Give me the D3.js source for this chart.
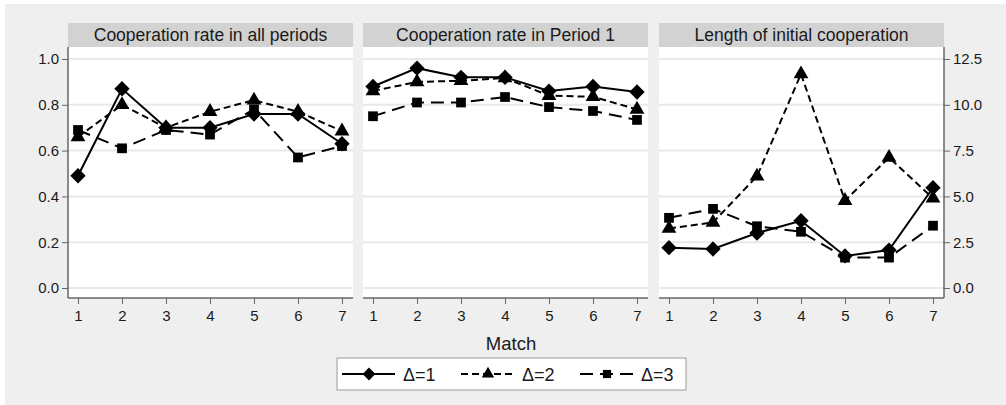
<!DOCTYPE html>
<html>
<head>
<meta charset="utf-8">
<script src="https://cdn.jsdelivr.net/npm/d3@7"></script>
<style>
  body { margin: 0; background: #ffffff; }
  text { font-family: "Liberation Sans", Arial, sans-serif; fill: #1a1a1a; }
</style>
</head>
<body>
<div id="chart"></div>
<script>
// data
var matches = [1, 2, 3, 4, 5, 6, 7];
var seriesNames = ["Δ=1", "Δ=2", "Δ=3"];
var panelTitles = ["Cooperation rate in all periods", "Cooperation rate in Period 1", "Length of initial cooperation"];

var allPeriods_d1 = [0.49, 0.87, 0.70, 0.70, 0.76, 0.76, 0.63];
var allPeriods_d2 = [0.66, 0.80, 0.70, 0.77, 0.82, 0.77, 0.685];
var allPeriods_d3 = [0.69, 0.61, 0.69, 0.67, 0.78, 0.57, 0.62];

var period1_d1 = [0.88, 0.96, 0.92, 0.92, 0.86, 0.88, 0.856];
var period1_d2 = [0.86, 0.90, 0.905, 0.917, 0.84, 0.835, 0.78];
var period1_d3 = [0.75, 0.81, 0.81, 0.834, 0.79, 0.773, 0.734];

var length_d1 = [2.2, 2.13, 3.0, 3.67, 1.75, 2.07, 5.47];
var length_d2 = [3.25, 3.58, 6.1, 11.68, 4.77, 7.12, 4.9];
var length_d3 = [3.83, 4.32, 3.37, 3.07, 1.66, 1.66, 3.4];

var rateTicks = [0, 0.2, 0.4, 0.6, 0.8, 1.0];
var lengthTicks = [0, 2.5, 5, 7.5, 10, 12.5];

var W = 1006, H = 405;
var svg = d3.select("#chart").append("svg")
    .attr("width", W).attr("height", H);

// gray page with thin white strip on left/top
svg.append("rect").attr("width", W).attr("height", H).attr("fill", "#ffffff");
svg.append("rect").attr("x", 5).attr("y", 4).attr("width", W - 5).attr("height", H - 4).attr("fill", "#efefef");

var panelW = 285, gap = 11;
var panelLeft = [68, 68 + panelW + gap - 1, 68 + 2 * (panelW + gap) - 1];
var titleTop = 23, titleH = 24;
var plotTop = 47, plotBottom = 298;

// line styles per series
var dashes = [null, "7,4", "13,7"];
var symbols = [d3.symbolDiamond2, d3.symbolTriangle, d3.symbolSquare];
var symSizes = [150, 95, 95];

var panels = [
  { data: [allPeriods_d1, allPeriods_d2, allPeriods_d3], domain: [0, 1], ticks: rateTicks, fmt: d3.format(".1f"), yTop: 59, axis: "left" },
  { data: [period1_d1, period1_d2, period1_d3], domain: [0, 1], ticks: rateTicks, fmt: d3.format(".1f"), yTop: 59, axis: null },
  { data: [length_d1, length_d2, length_d3], domain: [0, 12.5], ticks: lengthTicks, fmt: d3.format(".1f"), yTop: 59, axis: "right" }
];

panels.forEach(function(p, i) {
  var x0 = panelLeft[i];
  var g = svg.append("g");

  // title strip
  g.append("rect")
    .attr("x", x0).attr("y", titleTop)
    .attr("width", panelW).attr("height", titleH)
    .attr("fill", "#d2d2d2");
  g.append("text")
    .attr("x", x0 + panelW / 2).attr("y", titleTop + titleH / 2 + 6)
    .attr("text-anchor", "middle")
    .style("font-size", "17.5px")
    .text(panelTitles[i]);

  // plot area
  g.append("rect")
    .attr("x", x0).attr("y", plotTop)
    .attr("width", panelW).attr("height", plotBottom - plotTop)
    .attr("fill", "#ffffff");

  var x = d3.scaleLinear().domain([1, 7]).range([x0 + 10, x0 + panelW - 11]);
  var y = d3.scaleLinear().domain(p.domain).range([288, p.yTop]);

  // gridlines
  g.selectAll(".grid").data(p.ticks).enter().append("line")
    .attr("x1", x0).attr("x2", x0 + panelW)
    .attr("y1", function(d) { return y(d); })
    .attr("y2", function(d) { return y(d); })
    .attr("stroke", "#e8e8e8").attr("stroke-width", 2);

  // x axis
  var xa = g.append("g")
    .attr("transform", "translate(0," + plotBottom + ")")
    .call(d3.axisBottom(x).tickValues(matches).tickFormat(d3.format("d")).tickSize(6).tickSizeOuter(0));
  xa.select(".domain").attr("d", "M" + x0 + ",0H" + (x0 + panelW)).attr("stroke", "#666").attr("stroke-width", 1.5);
  xa.selectAll(".tick line").attr("stroke", "#666");
  xa.selectAll(".tick text").style("font-size", "15px").attr("dy", "0.95em").attr("fill", "#1a1a1a");

  // y axis (left on first, right on last)
  if (p.axis) {
    var ax = p.axis === "left" ? d3.axisLeft(y) : d3.axisRight(y);
    var ya = g.append("g")
      .attr("transform", "translate(" + (p.axis === "left" ? x0 : x0 + panelW) + ",0)")
      .call(ax.tickValues(p.ticks).tickFormat(p.fmt).tickSize(6).tickSizeOuter(0).tickPadding(3));
    ya.select(".domain").attr("d", "M0," + plotTop + "V" + plotBottom).attr("stroke", "#666").attr("stroke-width", 1.5);
    ya.selectAll(".tick line").attr("stroke", "#666");
    ya.selectAll(".tick text").style("font-size", "15px").attr("fill", "#1a1a1a");
  }

  // series lines and markers
  p.data.forEach(function(vals, s) {
    var line = d3.line()
      .x(function(d, k) { return x(matches[k]); })
      .y(function(d) { return y(d); });
    g.append("path")
      .datum(vals)
      .attr("d", line)
      .attr("fill", "none")
      .attr("stroke", "#000")
      .attr("stroke-width", 2)
      .attr("stroke-dasharray", dashes[s]);
    g.selectAll(".m" + s).data(vals).enter().append("path")
      .attr("class", "m" + s)
      .attr("d", d3.symbol().type(symbols[s]).size(symSizes[s]))
      .attr("transform", function(d, k) { return "translate(" + x(matches[k]) + "," + y(d) + ")"; })
      .attr("fill", "#000");
  });
});

// x axis title
svg.append("text")
  .attr("x", 511).attr("y", 350)
  .attr("text-anchor", "middle")
  .style("font-size", "18.5px")
  .text("Match");

// legend
var leg = svg.append("g");
leg.append("rect")
  .attr("x", 337).attr("y", 358)
  .attr("width", 349).attr("height", 32)
  .attr("fill", "#ffffff").attr("stroke", "#9a9a9a").attr("stroke-width", 1);

var legX = [342, 461, 580];
seriesNames.forEach(function(name, s) {
  var lx = legX[s], ly = 374;
  leg.append("line")
    .attr("x1", lx).attr("x2", lx + 53)
    .attr("y1", ly).attr("y2", ly)
    .attr("stroke", "#000").attr("stroke-width", 2)
    .attr("stroke-dasharray", dashes[s]);
  leg.append("path")
    .attr("d", d3.symbol().type(symbols[s]).size(symSizes[s] * 0.7))
    .attr("transform", "translate(" + (lx + 27) + "," + ly + ")")
    .attr("fill", "#000");
  leg.append("text")
    .attr("x", lx + 61).attr("y", ly + 7)
    .style("font-size", "18px")
    .text(name);
});
</script>
</body>
</html>
